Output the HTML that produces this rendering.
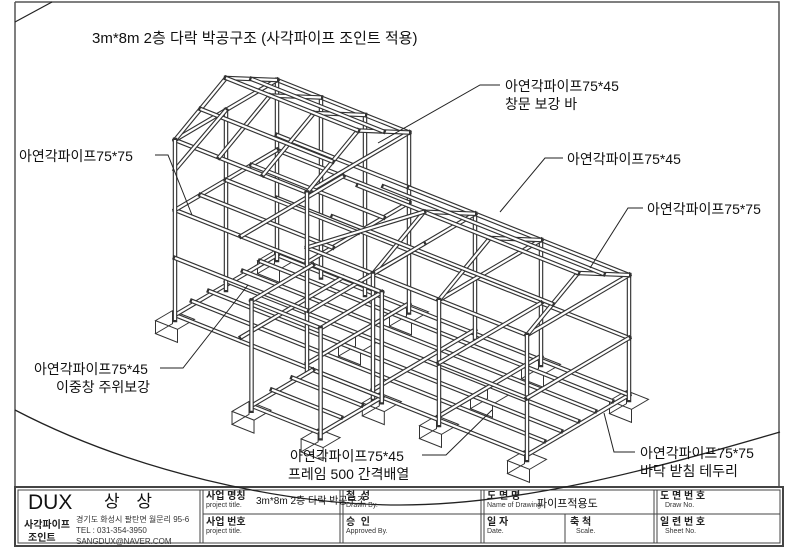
<!DOCTYPE html>
<html><head><meta charset="utf-8">
<style>
body{margin:0;background:#fff;}
#w{position:relative;width:800px;height:548px;overflow:hidden;background:#fff;font-family:"Liberation Sans","Noto Sans CJK KR",sans-serif;color:#111;}
.t{position:absolute;white-space:nowrap;font-size:14px;line-height:16px;}
.s{position:absolute;white-space:nowrap;font-size:7px;line-height:8px;color:#333;}
.k{position:absolute;white-space:nowrap;font-size:10px;line-height:11px;font-weight:bold;color:#222;}
svg{position:absolute;left:0;top:0;}
</style></head><body>
<div id="w">
<svg id="sv" width="800" height="548" viewBox="0 0 800 548">
<g id="fr" fill="none" stroke="#555" stroke-width="1.5">
<path d="M15,2 H779 V486"/>
<path d="M15,2 V546"/>
<path d="M15,22 L52,2" stroke="#222" stroke-width="1.2"/>
</g>
<g id="draw"></g>
<g fill="none" stroke="#222" stroke-width="1">
<polyline points="500,85 480,85 378,143"/>
<polyline points="563,158 545,158 500,212"/>
<polyline points="643,208 628,208 590,268"/>
<polyline points="155,155 168,155 192,215"/>
<polyline points="160,368 183,368 248,285"/>
<polyline points="422,455 446,455 492,410"/>
<polyline points="635,452 614,452 604,413"/>
</g>
<g fill="none" stroke="#444">
<rect x="15" y="487" width="768" height="59" stroke-width="2"/>
<rect x="18" y="490" width="762" height="53" stroke-width="1"/>
<path d="M200,490 V543 M203,490 V543 M340,490 V543 M343,490 V543 M481,490 V543 M484,490 V543 M654,490 V543 M657,490 V543 M565,514 V543 M203,514 H780" stroke-width="1"/>
</g>
<path d="M15,410 C130,470 280,505 400,505 C520,505 650,470 780,432" fill="none" stroke="#222" stroke-width="1.3"/>
</svg>

<div class="t" style="left:92px;top:31px;font-size:15px;">3m*8m 2층 다락 박공구조 (사각파이프 조인트 적용)</div>
<div class="t" style="left:505px;top:78px;">아연각파이프75*45</div>
<div class="t" style="left:505px;top:96px;">창문 보강 바</div>
<div class="t" style="left:567px;top:151px;">아연각파이프75*45</div>
<div class="t" style="left:647px;top:201px;">아연각파이프75*75</div>
<div class="t" style="left:19px;top:148px;">아연각파이프75*75</div>
<div class="t" style="left:34px;top:361px;">아연각파이프75*45</div>
<div class="t" style="left:56px;top:379px;">이중창 주위보강</div>
<div class="t" style="left:290px;top:448px;">아연각파이프75*45</div>
<div class="t" style="left:288px;top:466px;">프레임 500 간격배열</div>
<div class="t" style="left:640px;top:445px;">아연각파이프75*75</div>
<div class="t" style="left:640px;top:463px;">바닥 받침 테두리</div>

<div class="t" style="left:28px;top:491px;font-size:21px;line-height:24px;">DUX</div>
<div class="t" style="left:104px;top:491px;font-size:17px;line-height:22px;letter-spacing:6px;">상 상</div>
<div class="k" style="left:24px;top:520px;">사각파이프</div>
<div class="k" style="left:28px;top:533px;">조인트</div>
<div class="s" style="left:76px;top:516px;font-size:8px;">경기도 화성시 팔탄면 월문리 95-6</div>
<div class="s" style="left:76px;top:527px;font-size:8px;">TEL : 031-354-3950</div>
<div class="s" style="left:76px;top:538px;font-size:8px;">SANGDUX@NAVER.COM</div>

<div class="k" style="left:206px;top:491px;">사업 명칭</div><div class="s" style="left:206px;top:502px;">project title.</div>
<div class="t" style="left:256px;top:494px;font-size:10px;">3m*8m 2층 다락 박공구조</div>
<div class="k" style="left:346px;top:491px;">철 &nbsp;성</div><div class="s" style="left:346px;top:502px;">Drawn By.</div>
<div class="k" style="left:487px;top:491px;">도 면 명</div><div class="s" style="left:487px;top:502px;">Name of Drawing.</div>
<div class="t" style="left:537px;top:496px;font-size:11px;">파이프적용도</div>
<div class="k" style="left:660px;top:491px;">도 면 번 호</div><div class="s" style="left:665px;top:502px;">Draw No.</div>
<div class="k" style="left:206px;top:517px;">사업 번호</div><div class="s" style="left:206px;top:528px;">project title.</div>
<div class="k" style="left:346px;top:517px;">승 &nbsp;인</div><div class="s" style="left:346px;top:528px;">Approved By.</div>
<div class="k" style="left:487px;top:517px;">일 자</div><div class="s" style="left:487px;top:528px;">Date.</div>
<div class="k" style="left:570px;top:517px;">축 척</div><div class="s" style="left:576px;top:528px;">Scale.</div>
<div class="k" style="left:660px;top:517px;">일 련 번 호</div><div class="s" style="left:665px;top:528px;">Sheet No.</div>
</div>
<script>
(function(){
var g=document.getElementById('draw'),out='';
function P(x,y,z){return [175+44*x+34*y,320+17.5*x-20*y-z];}
var segs=[];
function S(a,b){segs.push([a,b]);}
function rect(x0,x1,y0,y1,z){S([x0,y0,z],[x1,y0,z]);S([x1,y0,z],[x1,y1,z]);S([x1,y1,z],[x0,y1,z]);S([x0,y1,z],[x0,y0,z]);}
function post(x,y,z0,z1){S([x,y,z0],[x,y,z1]);}
var feet=[[0,3],[3,3],[6,3],[8,3],[0,0],[3.13,-1.8],[4.7,-1.8],[4.7,0],[6,0],[8,0],[3,1.5],[6,1.5]];
feet.forEach(function(f){
 var a=P(f[0]-.25,f[1]-.25,0),b=P(f[0]+.25,f[1]-.25,0),c=P(f[0]+.25,f[1]+.25,0),d=P(f[0]-.25,f[1]+.25,0),h=13;
 out+='<path d="M'+d+' L'+a+' L'+b+' L'+c+' Z M'+d[0]+','+d[1]+' V'+(d[1]+h)+' L'+a[0]+','+(a[1]+h)+' L'+b[0]+','+(b[1]+h)+' V'+b[1]+' M'+a+' V'+(a[1]+h)+'" fill="#fff" stroke="#333" stroke-width="1"/>';
});
rect(0,8,0,3,5);
[0.5,1,1.5,2,2.5].forEach(function(y){S([0,y,9],[8,y,9]);});
[1.5,3,4.5,6].forEach(function(x){S([x,0,9],[x,3,9]);});
[0,1,2,3,4.5,6,8].forEach(function(x){post(x,3,0,x<=3?180:125);});
S([0,3,62],[8,3,62]);S([0,3,125],[3,3,125]);
post(0,1.5,0,180);
rect(0,3,0,3,110);rect(0,3,0,3,180);
[0.75,1.5,2.25].forEach(function(y){S([0,y,110],[3,y,110]);});
S([1.5,0,110],[1.5,3,110]);
[0,1,2,3].forEach(function(x){S([x,0,180],[x,1.5,212]);S([x,1.5,212],[x,3,180]);});
S([0,1.5,212],[3,1.5,212]);S([0,0.75,196],[3,0.75,196]);S([0,2.25,196],[3,2.25,196]);
S([0,0,150],[0,1.5,180]);
S([3,0,125],[8,0,125]);S([3,3,125],[8,3,125]);
[4.5,6,8].forEach(function(x){S([x,0,125],[x,3,125]);S([x,0,125],[x,1.5,157]);S([x,1.5,157],[x,3,125]);});
S([3,1.5,157],[8,1.5,157]);S([3,0.75,141],[8,0.75,141]);S([3,2.25,141],[8,2.25,141]);
S([3,0,125],[4.5,1.5,157]);S([3,0,60],[4.5,1.5,125]);
[4.5,6,8].forEach(function(x){post(x,0,0,125);});
S([6,0,62],[8,0,62]);S([8,0,62],[8,3,62]);S([6,0,62],[6,3,62]);
[0,3].forEach(function(x){post(x,0,0,180);});
S([0,0,62],[3,0,62]);
var a=3.13,b=4.7;
rect(a,b,-1.8,0,5);rect(a,b,-1.8,0,110);
S([a,-1.2,9],[b,-1.2,9]);S([a,-0.6,9],[b,-0.6,9]);
post(a,-1.8,0,110);post(b,-1.8,0,110);post(b,0,0,110);
segs.forEach(function(s){var p=P.apply(null,s[0]),q=P.apply(null,s[1]);
 out+='<line x1="'+p[0]+'" y1="'+p[1]+'" x2="'+q[0]+'" y2="'+q[1]+'" stroke="#333" stroke-width="4.5" stroke-linecap="square"/>'+
 '<line x1="'+p[0]+'" y1="'+p[1]+'" x2="'+q[0]+'" y2="'+q[1]+'" stroke="#fff" stroke-width="2.2"/>';});
g.innerHTML=out;
})();
</script>
</body></html>
